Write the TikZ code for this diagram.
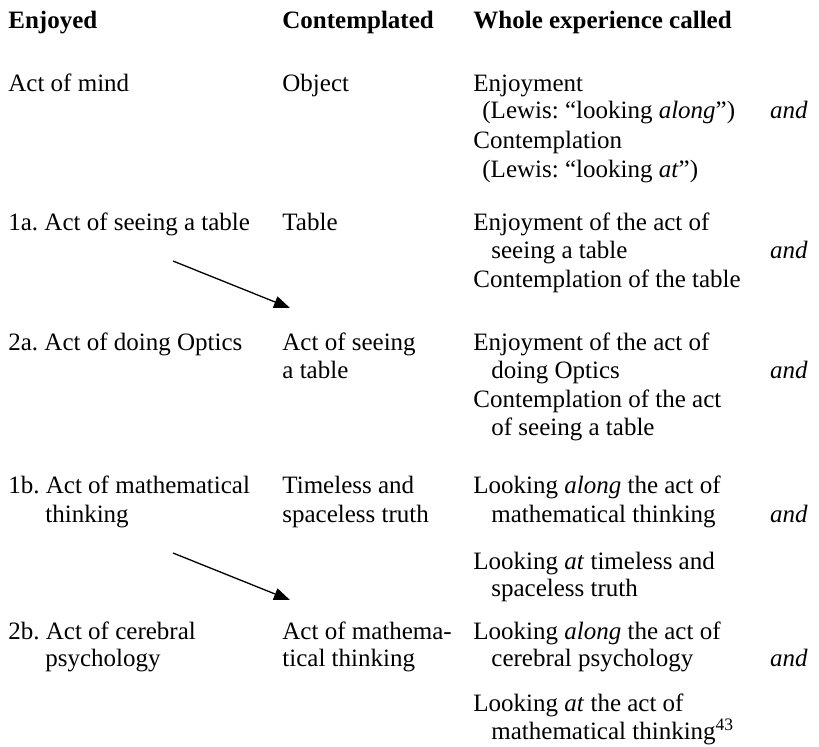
\documentclass[tikz,border=0pt]{standalone}
\usepackage{fontspec}
\setmainfont{Liberation Serif}
\usetikzlibrary{arrows.meta}
\newcommand\tabsize{\fontsize{12.5}{14}\selectfont\frenchspacing}
\tikzset{
  cell/.style={anchor=base west, inner sep=0pt, font=\tabsize},
  head/.style={anchor=base west, inner sep=0pt, font=\tabsize\bfseries},
  andlbl/.style={anchor=base east, inner sep=0pt, font=\tabsize\itshape},
  link/.style={-{Triangle[length=8pt,width=6pt]}, line width=0.65pt}
}
\begin{document}
\begin{tikzpicture}[x=0.5pt, y=-0.5pt]
  \useasboundingbox (0,0) rectangle (819,746);

  % column heads
  \node[head] (hEnj) at (8,28)   {Enjoyed};
  \node[head] (hCon) at (282,28) {Contemplated};
  \node[head] (hWho) at (473,28) {Whole experience called};

  % general case
  \node[cell] (enjA)  at (8,91)   {Act of mind};
  \node[cell] (conA)  at (282,91) {Object};
  \node[cell] (whoA1) at (473,91)  {Enjoyment};
  \node[cell] (whoA2) at (482,118) {(Lewis: “looking \textit{along}”)};
  \node[andlbl] (andA) at (808,118) {and};
  \node[cell] (whoA3) at (473,148) {Contemplation};
  \node[cell] (whoA4) at (482,177) {(Lewis: “looking \textit{at}”)};

  % 1a
  \node[cell] (enj1a)  at (8,230)   {1a. Act of seeing a table};
  \node[cell] (con1a)  at (282,230) {Table};
  \node[cell] (who1a1) at (473,230) {Enjoyment of the act of};
  \node[cell] (who1a2) at (491,258) {seeing a table};
  \node[andlbl] (and1a) at (808,258) {and};
  \node[cell] (who1a3) at (473,287) {Contemplation of the table};

  % 2a
  \node[cell] (enj2a)  at (8,350)   {2a. Act of doing Optics};
  \node[cell] (con2a1) at (282,350) {Act of seeing};
  \node[cell] (con2a2) at (282,378) {a table};
  \node[cell] (who2a1) at (473,350) {Enjoyment of the act of};
  \node[cell] (who2a2) at (491,378) {doing Optics};
  \node[andlbl] (and2a) at (808,378) {and};
  \node[cell] (who2a3) at (473,407) {Contemplation of the act};
  \node[cell] (who2a4) at (491,435) {of seeing a table};

  % 1b
  \node[cell] (enj1b1) at (8,493)   {1b. Act of mathematical};
  \node[cell] (enj1b2) at (45,522)  {thinking};
  \node[cell] (con1b1) at (282,493) {Timeless and};
  \node[cell] (con1b2) at (282,522) {spaceless truth};
  \node[cell] (who1b1) at (473,493) {Looking \textit{along} the act of};
  \node[cell] (who1b2) at (491,522) {mathematical thinking};
  \node[andlbl] (and1b) at (808,522) {and};
  \node[cell] (who1b3) at (473,569) {Looking \textit{at} timeless and};
  \node[cell] (who1b4) at (491,596) {spaceless truth};

  % 2b
  \node[cell] (enj2b1) at (8,639)   {2b. Act of cerebral};
  \node[cell] (enj2b2) at (45,666)  {psychology};
  \node[cell] (con2b1) at (282,639) {Act of mathema-};
  \node[cell] (con2b2) at (282,666) {tical thinking};
  \node[cell] (who2b1) at (473,639) {Looking \textit{along} the act of};
  \node[cell] (who2b2) at (491,666) {cerebral psychology};
  \node[andlbl] (and2b) at (808,666) {and};
  \node[cell] (who2b3) at (473,711) {Looking \textit{at} the act of};
  \node[cell] (who2b4) at (491,739) {mathematical thinking\textsuperscript{43}};

  % shifts from enjoyed to contemplated
  \coordinate (from1) at (173,261);
  \coordinate (to1)   at (290,308);
  \coordinate (from2) at (173,553);
  \coordinate (to2)   at (290,600);
  \draw[link] (from1) -- (to1);
  \draw[link] (from2) -- (to2);
\end{tikzpicture}
\end{document}
